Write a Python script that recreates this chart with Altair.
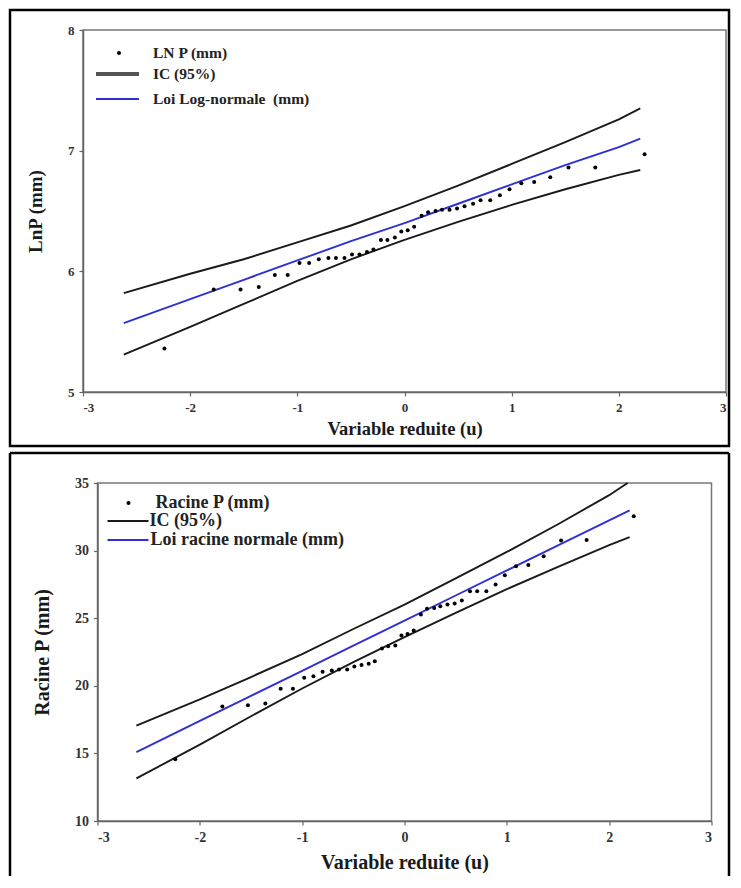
import altair as alt
import pandas as pd

FONT = "Liberation Serif"

# ---- observed points (reduced variable u, Hazen plotting positions, n = 40)
u_obs = [-2.24, -1.78, -1.53, -1.36, -1.21, -1.09, -0.98, -0.89, -0.80, -0.71,
         -0.64, -0.56, -0.49, -0.42, -0.35, -0.29, -0.22, -0.16, -0.09, -0.03,
         0.03, 0.09, 0.16, 0.22, 0.29, 0.35, 0.42, 0.49, 0.56, 0.64,
         0.71, 0.80, 0.89, 0.98, 1.09, 1.21, 1.36, 1.53, 1.78, 2.24]

lnp_obs = [5.36, 5.85, 5.85, 5.87, 5.97, 5.97, 6.07, 6.07, 6.10, 6.11,
           6.11, 6.11, 6.14, 6.14, 6.16, 6.18, 6.26, 6.26, 6.28, 6.33,
           6.34, 6.37, 6.46, 6.49, 6.50, 6.51, 6.51, 6.52, 6.54, 6.56,
           6.59, 6.59, 6.63, 6.68, 6.73, 6.74, 6.78, 6.86, 6.86, 6.97]

racine_obs = [14.56, 18.47, 18.57, 18.70, 19.78, 19.78, 20.59, 20.71, 21.03, 21.13,
              21.20, 21.20, 21.43, 21.53, 21.63, 21.82, 22.76, 22.93, 22.98, 23.72,
              23.84, 24.09, 25.27, 25.69, 25.76, 25.89, 26.01, 26.08, 26.31, 27.00,
              27.00, 27.00, 27.49, 28.18, 28.84, 28.94, 29.58, 30.74, 30.79, 32.54]

# ---- fitted law and 95% confidence band, top panel (LnP)
u_top = [-2.62, -2.0, -1.5, -1.0, -0.5, 0.0, 0.5, 1.0, 1.5, 2.0, 2.2]
lnp_fit = [5.57, 5.77, 5.93, 6.09, 6.25, 6.40, 6.56, 6.72, 6.88, 7.03, 7.10]
lnp_up = [5.82, 5.98, 6.10, 6.24, 6.38, 6.54, 6.71, 6.89, 7.07, 7.26, 7.35]
lnp_lo = [5.31, 5.54, 5.73, 5.92, 6.10, 6.26, 6.41, 6.55, 6.68, 6.80, 6.84]

# ---- fitted law and 95% confidence band, bottom panel (Racine P)
u_bot = [-2.62, -2.0, -1.5, -1.0, -0.5, 0.0, 0.5, 1.0, 1.5, 2.0, 2.2]
u_bot_up = [-2.62, -2.0, -1.5, -1.0, -0.5, 0.0, 0.5, 1.0, 1.5, 2.0, 2.18]
rac_fit = [15.10, 17.40, 19.26, 21.11, 22.97, 24.82, 26.68, 28.53, 30.39, 32.24, 32.98]
rac_up = [17.05, 19.00, 20.65, 22.35, 24.20, 26.00, 27.95, 29.90, 31.95, 34.10, 35.00]
rac_lo = [13.15, 15.65, 17.75, 19.80, 21.75, 23.60, 25.40, 27.15, 28.80, 30.40, 31.00]

x_ticks = [-3, -2, -1, 0, 1, 2, 3]
y_ticks_top = [5, 6, 7, 8]
y_ticks_bot = [10, 15, 20, 25, 30, 35]

BLACK = "#1a1a1a"
BLUE = "#2f2fd6"
one = pd.DataFrame({"k": [0]})

xlab = "datum.value < 0 ? '-' + abs(datum.value) : datum.label"


def make_enc(dom, yticks, ytitle, lsize, xtsize, ytsize, xtpad):
    def xenc():
        return alt.X("u:Q", scale=alt.Scale(domain=[-3, 3], nice=False),
                     axis=alt.Axis(values=x_ticks, title="Variable reduite (u)",
                                   labelExpr=xlab, titlePadding=xtpad,
                                   labelFontSize=lsize, titleFontSize=xtsize))

    def yenc():
        return alt.Y("v:Q", scale=alt.Scale(domain=dom, nice=False, zero=False),
                     axis=alt.Axis(values=yticks, title=ytitle, titlePadding=22,
                                   labelFontSize=lsize, titleFontSize=ytsize))
    return xenc, yenc


def line_layer(us, vs, color, enc, width=1.9):
    xenc, yenc = enc
    df = pd.DataFrame({"u": us, "v": vs})
    return alt.Chart(df).mark_line(color=color, strokeWidth=width).encode(
        x=xenc(), y=yenc())


def point_layer(us, vs, enc):
    xenc, yenc = enc
    df = pd.DataFrame({"u": us, "v": vs})
    return alt.Chart(df).mark_circle(size=16, color="black", opacity=1).encode(
        x=xenc(), y=yenc())


def legend_text(x, y, txt, size):
    return alt.Chart(one).mark_text(align="left", baseline="middle", font=FONT,
                                    fontSize=size, fontWeight="bold",
                                    color="#222").encode(
        x=alt.value(x), y=alt.value(y), text=alt.value(txt))


def legend_rule(x1, x2, y, color, width):
    return alt.Chart(one).mark_rule(color=color, strokeWidth=width).encode(
        x=alt.value(x1), x2=alt.value(x2), y=alt.value(y))


def legend_dot(x, y):
    return alt.Chart(one).mark_circle(size=16, color="black", opacity=1).encode(
        x=alt.value(x), y=alt.value(y))


def frame_rule(x1, y1, x2=None, y2=None):
    enc = {"x": alt.value(x1), "y": alt.value(y1)}
    if x2 is not None:
        enc["x2"] = alt.value(x2)
    if y2 is not None:
        enc["y2"] = alt.value(y2)
    return alt.Chart(one).mark_rule(color="black", strokeWidth=2.5).encode(**enc)


# ---------------- top panel ----------------
enc_t = make_enc([5, 8], y_ticks_top, "LnP (mm)", 13, 18.5, 19, 5)

frame_t = alt.Chart(one).mark_rect(fillOpacity=0, stroke="black", strokeWidth=2.5).encode(
    x=alt.value(-73), x2=alt.value(646), y=alt.value(-20), y2=alt.value(416))

top = alt.layer(
    frame_t,
    line_layer(u_top, lnp_up, BLACK, enc_t),
    line_layer(u_top, lnp_lo, BLACK, enc_t),
    line_layer(u_top, lnp_fit, BLUE, enc_t),
    point_layer(u_obs, lnp_obs, enc_t),
    legend_dot(36, 23),
    legend_rule(13, 56, 44, "#555", 4),
    legend_rule(13, 56, 69, BLUE, 2),
    legend_text(70, 23, "LN P (mm)", 15.5),
    legend_text(70, 44, "IC (95%)", 15.5),
    legend_text(70, 69, "Loi Log-normale\u00a0\u00a0(mm)", 15.5),
).properties(width=643, height=362)

# ---------------- bottom panel ----------------
enc_b = make_enc([10, 35], y_ticks_bot, "Racine P (mm)", 14, 20, 20, 8)

bot = alt.layer(
    frame_rule(-87.5, -30, y2=393),
    frame_rule(-87.5, -30, x2=631.5),
    frame_rule(631.5, -30, y2=393),
    line_layer(u_bot_up, rac_up, BLACK, enc_b),
    line_layer(u_bot, rac_lo, BLACK, enc_b),
    line_layer(u_bot, rac_fit, BLUE, enc_b),
    point_layer(u_obs, racine_obs, enc_b),
    legend_dot(31, 20),
    legend_rule(10, 51, 38, BLACK, 1.9),
    legend_rule(10, 51, 57, BLUE, 1.9),
    legend_text(58, 20, "Racine P (mm)", 18),
    legend_text(52, 38, "IC (95%)", 18),
    legend_text(53, 57, "Loi racine normale (mm)", 18),
).properties(width=614, height=338)

chart = alt.vconcat(top, bot, spacing=91, bounds="flush", center=True,
                    padding=0).configure_view(
    stroke="#777", strokeWidth=1.5
).configure_axis(
    grid=False, domainColor="#666", domainWidth=1.5, tickColor="#666",
    tickSize=4, tickWidth=1.2, labelPadding=5,
    labelFont=FONT, labelFontWeight="bold", labelColor="#333",
    titleFont=FONT, titleFontWeight="bold", titleColor="#1a1a1a"
)

chart.save("out.html", embed_options={"renderer": "svg", "actions": False})
